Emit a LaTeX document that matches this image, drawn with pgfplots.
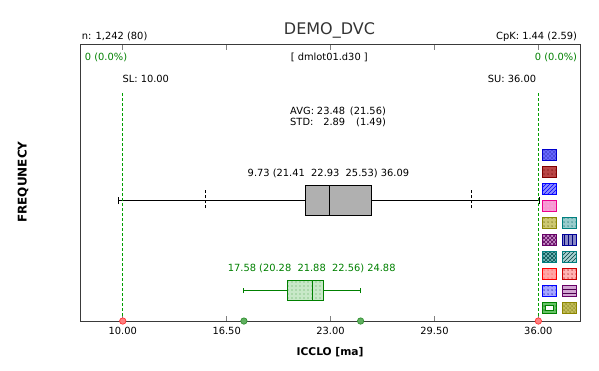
\documentclass[border=0pt]{standalone}
\usepackage{fontspec}
\setmainfont{DejaVu Sans}
\usepackage{pgfplots}
\pgfplotsset{compat=1.18}
\usepgfplotslibrary{statistics}
\usetikzlibrary{patterns}
\definecolor{axiscol}{HTML}{3A3A3A}
\definecolor{tickcol}{HTML}{808080}
\definecolor{titlecol}{HTML}{333333}
\definecolor{txtgreen}{HTML}{008000}
\definecolor{lngreen}{HTML}{00A000}
\definecolor{boxgray}{HTML}{B0B0B0}
\definecolor{boxgreen}{HTML}{C8E8C8}
\definecolor{dotgreen}{HTML}{60B060}
\definecolor{dotgreenE}{HTML}{309030}
\definecolor{dotred}{HTML}{FF8080}
\definecolor{dotredE}{HTML}{FF3030}
\newcommand{\sfs}{\fontsize{7.4}{8.9}\selectfont}
% x1 x2 ybottom ytop draw fill pattern patterncolor
\newcommand{\swatch}[8]{%
  \draw[draw=#5, fill=#6, line width=0.75pt] (axis cs:#1,#3) rectangle (axis cs:#2,#4);
  \fill[pattern=#7, pattern color=#8] (axis cs:#1,#3) rectangle (axis cs:#2,#4);
  \draw[draw=#5, line width=0.75pt] (axis cs:#1,#3) rectangle (axis cs:#2,#4);}
\begin{document}
\begin{tikzpicture}
\begin{axis}[
  scale only axis, width=374.5pt, height=207pt,
  xmin=7.366, xmax=38.61, ymin=0, ymax=276,
  clip=false,
  axis line style={draw=axiscol, line width=0.75pt},
  ytick=\empty,
  xtick={10,16.5,23,29.5,36},
  xticklabels={10.00,16.50,23.00,29.50,36.00},
  xtick pos=both, xticklabel pos=lower,
  tick align=inside,
  major tick length=3.75pt,
  xtick style={draw=tickcol, line width=0.75pt},
  xticklabel style={font=\sfs, yshift=-1.3pt},
  /pgf/number format/assume math mode=true,
  boxplot/draw direction=x,
]
% main box plot
\addplot[draw=black, line width=0.75pt, fill=boxgray,
  boxplot prepared={lower whisker=9.73, lower quartile=21.41, median=22.93,
    upper quartile=25.53, upper whisker=36.09,
    draw position=120.5, box extend=30, whisker extend=7}] coordinates {};
\addplot[draw=black, line width=0.75pt, dash pattern=on 2.25pt off 1.5pt] coordinates {(15.15,113) (15.15,131)};
\addplot[draw=black, line width=0.75pt, dash pattern=on 2.25pt off 1.5pt] coordinates {(31.8,113) (31.8,131)};
% green box plot
\addplot[draw=txtgreen, line width=0.75pt, fill=boxgreen,
  boxplot/every box/.append style={postaction={pattern=dots, pattern color=txtgreen!70}},
  boxplot prepared={lower whisker=17.58, lower quartile=20.28, median=21.88,
    upper quartile=22.56, upper whisker=24.88,
    draw position=30.5, box extend=20, whisker extend=5}] coordinates {};
% spec limit lines
\addplot[draw=lngreen, line width=0.75pt, dash pattern=on 2.25pt off 1.5pt] coordinates {(10,0) (10,229)};
\addplot[draw=lngreen, line width=0.75pt, dash pattern=on 2.25pt off 1.5pt] coordinates {(36,0) (36,229)};
% axis dots
\addplot[only marks, mark=*, mark size=2.4pt, mark options={fill=dotgreen, draw=dotgreenE, line width=0.5pt}] coordinates {(17.58,0) (24.88,0)};
\addplot[only marks, mark=*, mark size=2.4pt, mark options={fill=dotred, draw=dotredE, line width=0.5pt}] coordinates {(10,0) (36,0)};
% swatches
\swatch{36.25}{37.15}{161.0}{171.7}{blue!80!black}{blue!60}{crosshatch dots}{blue!40!black}
\swatch{36.25}{37.15}{144.0}{154.7}{red!50!black}{red!45!gray}{dots}{red!40!black}
\swatch{36.25}{37.15}{127.0}{137.7}{blue}{blue!45}{north east lines}{blue}
\swatch{36.25}{37.15}{110.0}{120.7}{magenta}{magenta!40}{dots}{magenta!30}
\swatch{36.25}{37.15}{93.0}{103.7}{olive}{olive!45}{dots}{olive!70!black}
\swatch{37.50}{38.40}{93.0}{103.7}{teal}{teal!40}{dots}{teal!80!black}
\swatch{36.25}{37.15}{76.0}{86.7}{violet!80!black}{violet!45}{crosshatch}{violet!70!black}
\swatch{37.50}{38.40}{76.0}{86.7}{blue!60!black}{blue!35!gray!70}{vertical lines}{blue!50!black}
\swatch{36.25}{37.15}{59.0}{69.7}{teal}{teal!55}{crosshatch}{teal!60!black}
\swatch{37.50}{38.40}{59.0}{69.7}{teal}{teal!35}{north east lines}{teal!50!black}
\swatch{36.25}{37.15}{42.0}{52.7}{red}{red!35}{dots}{red!70}
\swatch{37.50}{38.40}{42.0}{52.7}{red!80!black}{red!30}{dots}{red!60!black}
\swatch{36.25}{37.15}{25.0}{35.7}{blue}{blue!35}{dots}{blue!60!black}
\swatch{37.50}{38.40}{25.0}{35.7}{violet!80!black}{violet!35}{horizontal lines}{violet!60!black}
\swatch{36.25}{37.15}{8.0}{18.7}{green!50!black}{green!60!black!60}{dots}{green!30!black}
\draw[draw=green!50!black, fill=white, line width=0.75pt] (axis cs:36.45,11) rectangle (axis cs:36.95,15.7);
\swatch{37.50}{38.40}{8.0}{18.7}{olive}{olive!55}{crosshatch dots}{olive!80!black}
% texts
\node[font=\fontsize{12}{14}\selectfont, text=titlecol, anchor=base, inner sep=0] at (axis cs:22.93,286.7) {DEMO\_DVC};
\node[font=\sfs, anchor=base west, inner sep=0] at (axis cs:7.43,281.7) {n: 1,242 (80)};
\node[font=\sfs, anchor=base east, inner sep=0] at (axis cs:38.44,281.7) {CpK: 1.44 (2.59)};
\node[font=\sfs, text=txtgreen, anchor=base west, inner sep=0] at (axis cs:7.616,260.3) {0 (0.0\%)};
\node[font=\sfs, text=txtgreen, anchor=base east, inner sep=0] at (axis cs:38.44,260.3) {0 (0.0\%)};
\node[font=\sfs, anchor=base, inner sep=0] at (axis cs:22.92,260.3) {[ dmlot01.d30 ]};
\node[font=\sfs, anchor=base west, inner sep=0] at (axis cs:9.97,238.3) {SL: 10.00};
\node[font=\sfs, anchor=base east, inner sep=0] at (axis cs:35.876,238.3) {SU: 36.00};
\node[font=\sfs, anchor=base west, inner sep=0] at (axis cs:20.46,206.7) {\makebox[41.25pt][l]{AVG:}\llap{23.48}\makebox[30.5pt][r]{(21.56)}};
\node[font=\sfs, anchor=base west, inner sep=0] at (axis cs:20.46,196) {\makebox[41.25pt][l]{STD:}\llap{2.89}\makebox[30.5pt][r]{(1.49)}};
\node[font=\sfs, anchor=base, inner sep=0] at (axis cs:22.87,144.7) {9.73 (21.41\ \ 22.93\ \ 25.53) 36.09};
\node[font=\sfs, text=txtgreen, anchor=base, inner sep=0] at (axis cs:21.82,49.5) {17.58 (20.28\ \ 21.88\ \ 22.56) 24.88};
\node[font=\fontsize{8}{10}\selectfont\bfseries, anchor=base, inner sep=0] at (axis cs:22.97,-34) {ICCLO [ma]};
\node[font=\fontsize{9}{11}\selectfont\bfseries, rotate=90, anchor=center, inner sep=0] at (axis cs:3.755,139) {FREQUNECY};
\end{axis}
\pgfresetboundingbox
\path[use as bounding box] (-60.5pt,-36.75pt) rectangle (388.7pt,240.75pt);
\end{tikzpicture}
\end{document}
